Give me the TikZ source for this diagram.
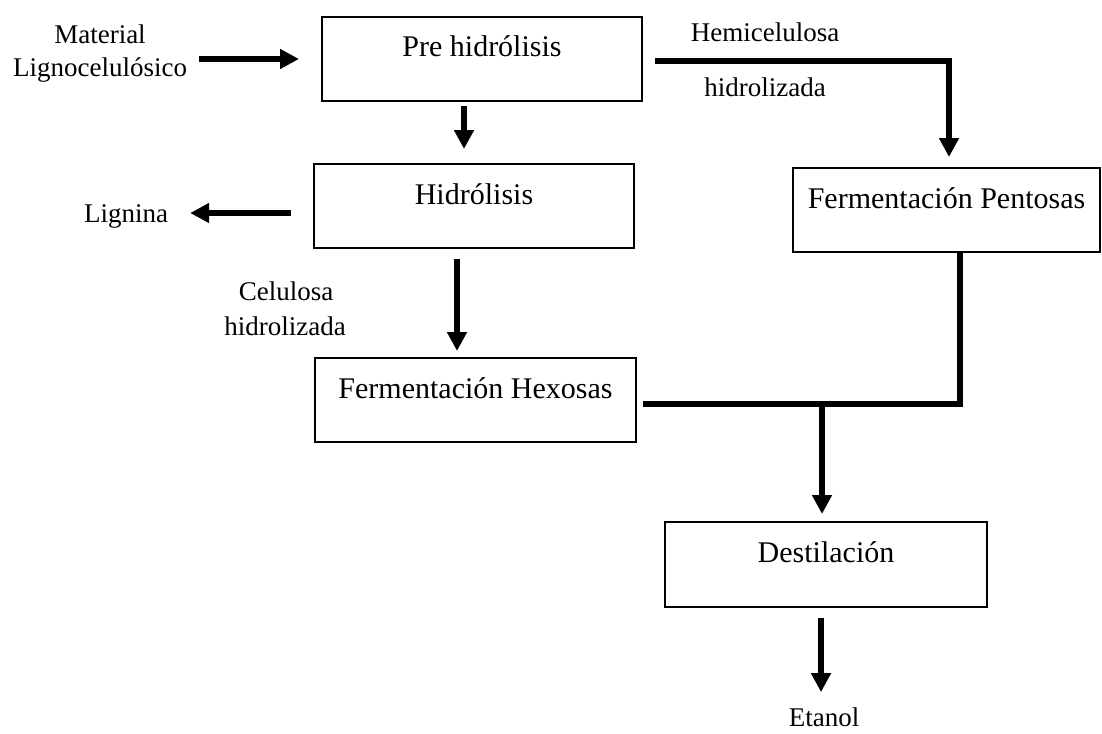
\documentclass[tikz,border=0pt]{standalone}
\usepackage{fontspec}
\setmainfont{Liberation Serif}
\usetikzlibrary{arrows.meta,calc}

\begin{document}
\begin{tikzpicture}[x=1pt,y=-1pt,
  stage/.style={draw, line width=2pt, inner xsep=0pt, inner ysep=0pt,
    minimum width=320pt, minimum height=84pt,
    text height=40pt, text depth=44pt, font=\fontsize{30}{36}\selectfont},
  lbl/.style={font=\fontsize{27}{33}\selectfont, align=center, inner sep=0pt},
  flow/.style={line width=5.5pt, line join=miter,
    -{Triangle[length=19pt,width=19pt]}},
  pipe/.style={line width=5.5pt, line join=miter}]

\useasboundingbox (0,0) rectangle (1102,733);

% process stages
\node[stage] (pre) at (482,59) {Pre hidrólisis};
\node[stage] (hid) at (474,206) {Hidrólisis};
\node[stage, minimum width=307pt] (pen) at (946.5,210) {Fermentación Pentosas};
\node[stage, minimum width=321pt] (hex) at (475.5,400) {Fermentación Hexosas};
\node[stage, minimum width=322pt, minimum height=85pt, text depth=45pt] (des) at (826,564.5) {Destilación};

% stream labels
\node[lbl, anchor=base] (mat1) at (100,44) {Material};
\node[lbl, anchor=base] (mat2) at (100,77) {Lignocelulósico};
\node[lbl, anchor=base] (hem1) at (765,42) {Hemicelulosa};
\node[lbl, anchor=base] (hem2) at (765,97) {hidrolizada};
\node[lbl, anchor=base] (lig) at (126,222) {Lignina};
\node[lbl, anchor=base] (cel1) at (286,300) {Celulosa};
\node[lbl, anchor=base] (cel2) at (285,335) {hidrolizada};
\node[lbl, anchor=base] (eta) at (824,726) {Etanol};

% feed and main line
\draw[flow] ($(pre.west -| mat2.east)+(12,0)$) -- ($(pre.west)+(-22,0)$);
\draw[flow] ($(pre.south)+(-18,4)$) coordinate (a1) -- ($(a1 |- hid.north)+(0,-14)$);
\draw[flow] ($(hid.west)+(-22,7)$) -- ($(lig.east |- hid.west)+(22,7)$);
\draw[flow] ($(hid.south)+(-17,10)$) coordinate (a2) -- ($(a2 |- hex.north)+(0,-6)$);

% hemicellulose branch
\draw[flow] ($(pre.east)+(12,2)$) -| ($(pen.north)+(2.5,-10)$);

% both fermentations to distillation
\coordinate (jn) at ($(des.north |- hex.east)+(-4,4)$);
\draw[pipe] ($(pen.south)+(13.5,0)$) |- ($(hex.east)+(6,4)$);
\draw[flow] (jn) -- ($(des.north)+(-4,-7)$);
\draw[flow] ($(des.south)+(-5,10)$) coordinate (a3) -- ($(a3 |- eta.north)+(0,-15)$);

\end{tikzpicture}
\end{document}
